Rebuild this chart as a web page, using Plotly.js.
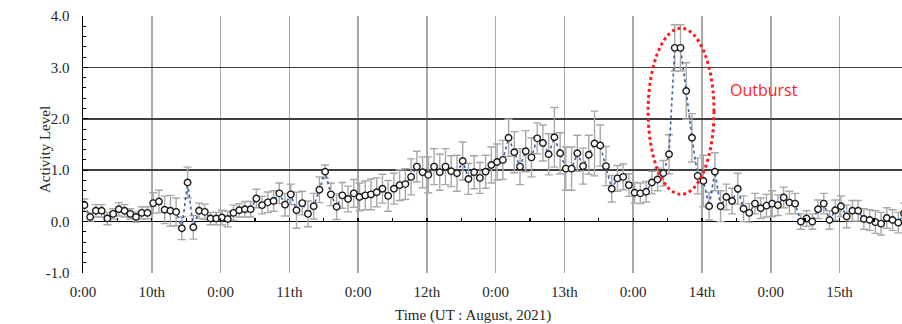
<!DOCTYPE html>
<html>
<head>
<meta charset="utf-8">
<script src="https://cdn.plot.ly/plotly-3.0.1.min.js"></script>
<style>html,body{margin:0;padding:0;background:#fff;}#chart{width:902px;height:324px;}</style>
</head>
<body>
<div id="chart"></div>
<script>
// Hourly activity level (UT, August 2021), first sample just after the first "0:00" tick
const activity = [
  0.32,0.09,0.21,0.21,0.06,0.15,0.24,0.21,0.15,0.09,0.17,0.17,
  0.36,0.39,0.23,0.21,0.19,-0.13,0.76,-0.11,0.21,0.19,0.06,0.06,
  0.08,0.05,0.17,0.22,0.24,0.24,0.45,0.32,0.375,0.40,0.55,0.33,
  0.53,0.22,0.36,0.15,0.30,0.62,0.97,0.53,0.29,0.51,0.44,0.55,
  0.48,0.51,0.53,0.57,0.64,0.50,0.64,0.71,0.73,0.87,1.07,0.96,
  0.91,1.07,0.96,1.07,0.98,0.94,1.18,0.83,0.96,0.85,0.97,1.10,
  1.16,1.20,1.63,1.35,1.07,1.37,1.25,1.62,1.53,1.31,1.64,1.33,
  1.03,1.03,1.33,1.08,1.30,1.52,1.48,1.08,0.64,0.84,0.87,0.71,
  0.56,0.55,0.58,0.76,0.82,0.94,1.31,3.38,3.38,2.54,1.63,0.89,
  0.79,0.30,0.97,0.30,0.48,0.40,0.64,0.25,0.17,0.35,0.26,0.31,
  0.35,0.32,0.47,0.37,0.35,0.00,0.06,0.00,0.24,0.35,0.03,0.22,
  0.30,0.10,0.21,0.21,0.05,0.03,-0.01,-0.04,0.07,0.03,-0.02,0.16
];
const errors = [
  0.12,0.08,0.12,0.12,0.12,0.10,0.13,0.12,0.10,0.10,0.12,0.12,
  0.20,0.22,0.27,0.30,0.27,0.22,0.30,0.23,0.15,0.15,0.12,0.12,
  0.14,0.15,0.15,0.13,0.15,0.15,0.18,0.17,0.20,0.20,0.20,0.22,
  0.20,0.35,0.23,0.25,0.25,0.25,0.13,0.22,0.25,0.25,0.25,0.27,
  0.27,0.28,0.30,0.28,0.28,0.30,0.30,0.30,0.30,0.35,0.30,0.30,
  0.35,0.35,0.35,0.35,0.30,0.35,0.37,0.30,0.32,0.30,0.32,0.35,
  0.35,0.38,0.36,0.40,0.35,0.40,0.38,0.30,0.35,0.40,0.58,0.40,
  0.42,0.42,0.35,0.35,0.38,0.63,0.40,0.38,0.26,0.25,0.25,0.22,
  0.20,0.20,0.20,0.22,0.22,0.25,0.38,0.45,0.45,0.55,0.47,0.35,
  0.50,0.27,0.37,0.30,0.25,0.25,0.30,0.25,0.18,0.20,0.20,0.22,
  0.25,0.20,0.20,0.22,0.20,0.15,0.15,0.15,0.18,0.20,0.18,0.20,
  0.20,0.22,0.20,0.20,0.20,0.20,0.22,0.22,0.20,0.20,0.20,0.20
];
const tickHours = [0,12,24,36,48,60,72,84,96,108,120,132];
const tickLabels = ["0:00","10th","0:00","11th","0:00","12th","0:00","13th","0:00","14th","0:00","15th"];
const yTicks = [-1,0,1,2,3,4];
const yTickLabels = ["-1.0","0.0","1.0","2.0","3.0","4.0"];
const yGridVals = [1,2,3];
const xTitle = "Time (UT : August, 2021)";
const yTitle = "Activity Level";
const annotationText = "Outburst";

const hours = activity.map((_, i) => i + 0.25);
const XR = [0, 142.9];
const YR = [-1, 4];
const serif = "Liberation Serif, Times New Roman, serif";
const txt = '#262626';

const trace = {
  x: hours, y: activity, type: 'scatter', mode: 'lines+markers',
  line: {color: '#3A62A7', width: 1.6, dash: 'dot'},
  marker: {symbol: 'circle', size: 6.5, color: '#ffffff', line: {color: '#1a1a1a', width: 1.4}},
  error_y: {type: 'data', array: errors, visible: true, color: '#A8A8A8', thickness: 1.4, width: 4},
  cliponaxis: true, hoverinfo: 'skip'
};
// invisible helper trace so the overlay axes (zero-line ticks, horizontal grid) are drawn
const helper = {
  x: hours, y: activity, type: 'scatter', mode: 'none', xaxis: 'x2', yaxis: 'y2',
  hoverinfo: 'skip', showlegend: false
};

const layout = {
  width: 902, height: 324,
  margin: {l: 83, r: 0, t: 16, b: 51},
  paper_bgcolor: '#fff', plot_bgcolor: '#fff',
  showlegend: false,
  xaxis: {
    range: XR, tickmode: 'array', tickvals: tickHours, ticktext: tickLabels,
    showgrid: true, gridcolor: '#A8A8A8', gridwidth: 1.5,
    zeroline: false, showline: false, ticks: '', ticklabelstandoff: 8,
    tickfont: {family: serif, size: 15, color: txt},
    fixedrange: true
  },
  xaxis2: {
    overlaying: 'x', anchor: 'free', position: (0 - YR[0]) / (YR[1] - YR[0]), side: 'bottom',
    range: XR, tickmode: 'linear', tick0: 0, dtick: 6,
    ticks: 'inside', ticklen: 4, tickwidth: 1.3, tickcolor: '#000',
    showticklabels: false, showgrid: false, zeroline: false, showline: false
  },
  yaxis: {
    range: YR, tickmode: 'array', tickvals: yTicks, ticktext: yTickLabels,
    showgrid: false, zeroline: true, zerolinecolor: '#000', zerolinewidth: 1.6,
    showline: true, linecolor: '#000', linewidth: 1.5,
    ticks: 'inside', ticklen: 5, tickcolor: '#000', ticklabelstandoff: 9,
    minor: {dtick: 0.2, tick0: 0, ticks: 'inside', ticklen: 3, tickcolor: '#000', showgrid: false},
    tickfont: {family: serif, size: 15, color: txt},
    fixedrange: true
  },
  yaxis2: {
    overlaying: 'y', range: YR, tickmode: 'array', tickvals: yGridVals,
    showgrid: true, gridcolor: '#404040', gridwidth: 1.5,
    showticklabels: false, ticks: '', zeroline: false, showline: false
  },
  shapes: [{
    type: 'circle', xref: 'x', yref: 'y',
    x0: 98.6, x1: 110.1, y0: 0.53, y1: 3.76,
    line: {color: '#FF1A1A', width: 3, dash: 'dot'}
  }],
  annotations: [{
    xref: 'x', yref: 'y', x: 112.6, y: 2.57, xanchor: 'left', yanchor: 'middle',
    text: annotationText, showarrow: false,
    font: {family: 'Open Sans, Liberation Sans, sans-serif', size: 16, color: '#FF1A1A'}
  }, {
    xref: 'paper', yref: 'paper', x: (473 - 83) / 819, y: (273 - 315) / 257,
    xanchor: 'center', yanchor: 'middle', showarrow: false,
    text: xTitle, font: {family: serif, size: 15, color: txt}
  }, {
    xref: 'paper', yref: 'paper', x: (45 - 83) / 819, y: (273 - 150) / 257,
    xanchor: 'center', yanchor: 'middle', showarrow: false, textangle: -90,
    text: yTitle, font: {family: serif, size: 15, color: txt}
  }]
};

Plotly.newPlot('chart', [helper, trace], layout, {staticPlot: true, displayModeBar: false});
</script>
</body>
</html>
